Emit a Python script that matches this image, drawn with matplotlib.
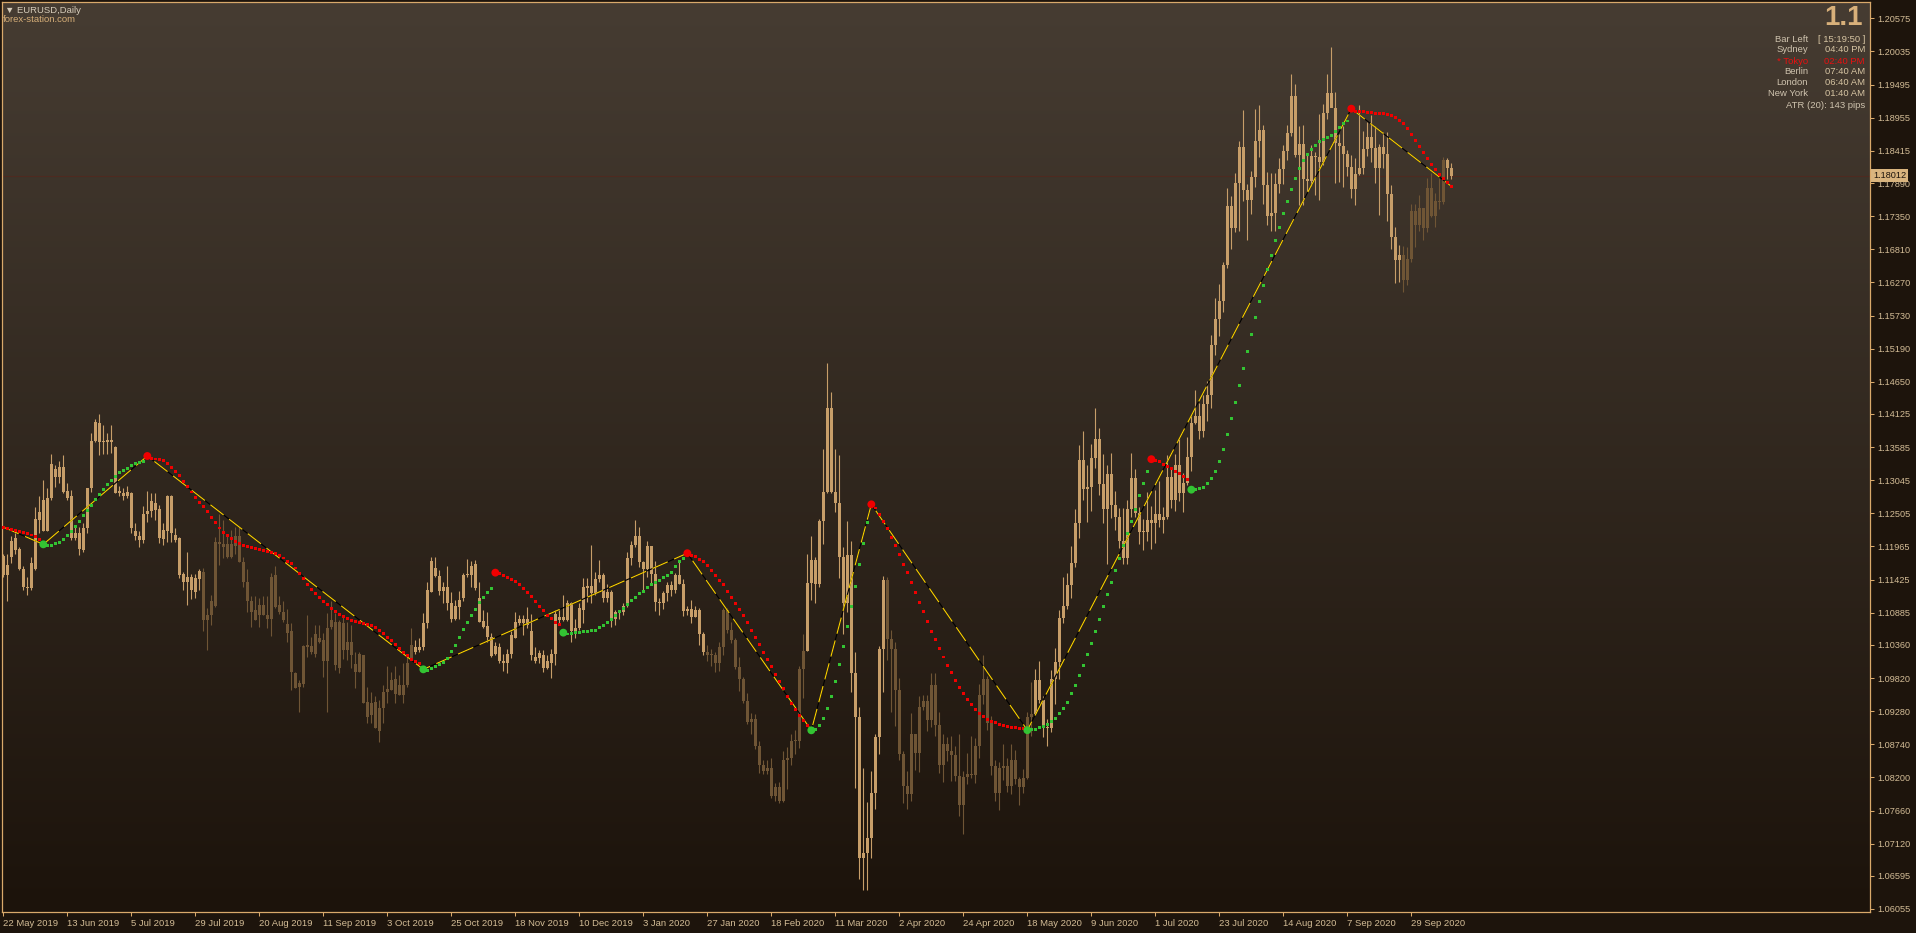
import matplotlib
matplotlib.use("Agg")
import matplotlib.pyplot as plt
import matplotlib.transforms as mtransforms
import numpy as np

# ---------------------------------------------------------------- data
symbol_title = "\u25BC EURUSD,Daily"
site_label = "forex-station.com"

date_labels = ["22 May 2019", "13 Jun 2019", "5 Jul 2019", "29 Jul 2019", "20 Aug 2019",
               "11 Sep 2019", "3 Oct 2019", "25 Oct 2019", "18 Nov 2019", "10 Dec 2019",
               "3 Jan 2020", "27 Jan 2020", "18 Feb 2020", "11 Mar 2020", "2 Apr 2020",
               "24 Apr 2020", "18 May 2020", "9 Jun 2020", "1 Jul 2020", "23 Jul 2020",
               "14 Aug 2020", "7 Sep 2020", "29 Sep 2020"]
date_label_bars = list(range(0, 353, 16))

price_ticks = [1.20575, 1.20035, 1.19495, 1.18955, 1.18415, 1.17890, 1.17350, 1.16810,
               1.16270, 1.15730, 1.15190, 1.14650, 1.14125, 1.13585, 1.13045, 1.12505,
               1.11965, 1.11425, 1.10885, 1.10360, 1.09820, 1.09280, 1.08740, 1.08200,
               1.07660, 1.07120, 1.06595, 1.06055]
current_price = 1.18012

# daily bars (open, high, low, close)
ohlc_may_jul_2019 = [
    (1.1181, 1.1185, 1.1147, 1.1150), (1.1150, 1.1184, 1.1107, 1.1167), (1.1180, 1.1213, 1.1169, 1.1206),
    (1.1210, 1.1218, 1.1185, 1.1191), (1.1192, 1.1196, 1.1158, 1.1160), (1.1159, 1.1164, 1.1125, 1.1131),
    (1.1131, 1.1147, 1.1117, 1.1129), (1.1128, 1.1180, 1.1126, 1.1169), (1.1160, 1.1261, 1.1158, 1.1241),
    (1.1240, 1.1278, 1.1218, 1.1253), (1.1272, 1.1305, 1.1221, 1.1221), (1.1221, 1.1291, 1.1221, 1.1275),
    (1.1275, 1.1348, 1.1272, 1.1331), (1.1323, 1.1329, 1.1294, 1.1310), (1.1309, 1.1336, 1.1300, 1.1326),
    (1.1326, 1.1346, 1.1283, 1.1286), (1.1287, 1.1300, 1.1272, 1.1276), (1.1278, 1.1289, 1.1207, 1.1210),
    (1.1210, 1.1229, 1.1207, 1.1218), (1.1218, 1.1229, 1.1183, 1.1192), (1.1191, 1.1234, 1.1188, 1.1227),
    (1.1226, 1.1291, 1.1218, 1.1291), (1.1291, 1.1381, 1.1286, 1.1369), (1.1369, 1.1405, 1.1367, 1.1400),
    (1.1398, 1.1413, 1.1346, 1.1366), (1.1366, 1.1395, 1.1348, 1.1369), (1.1370, 1.1381, 1.1348, 1.1366),
    (1.1366, 1.1395, 1.1349, 1.1370), (1.1359, 1.1361, 1.1283, 1.1284), (1.1284, 1.1295, 1.1278, 1.1287),
    (1.1284, 1.1291, 1.1272, 1.1278), (1.1278, 1.1295, 1.1275, 1.1285), (1.1284, 1.1286, 1.1218, 1.1226),
    (1.1222, 1.1234, 1.1207, 1.1214), (1.1214, 1.1221, 1.1196, 1.1207), (1.1207, 1.1263, 1.1202, 1.1250),
]
ohlc_jul_sep_2019 = [
    (1.1250, 1.1287, 1.1237, 1.1255), (1.1255, 1.1283, 1.1245, 1.1271), (1.1268, 1.1284, 1.1240, 1.1256),
    (1.1257, 1.1264, 1.1202, 1.1210), (1.1209, 1.1234, 1.1199, 1.1224), (1.1221, 1.1280, 1.1204, 1.1278),
    (1.1278, 1.1280, 1.1203, 1.1218), (1.1215, 1.1226, 1.1204, 1.1207), (1.1210, 1.1212, 1.1145, 1.1150),
    (1.1151, 1.1155, 1.1126, 1.1139), (1.1139, 1.1187, 1.1101, 1.1147), (1.1147, 1.1151, 1.1111, 1.1126),
    (1.1123, 1.1152, 1.1113, 1.1145), (1.1143, 1.1159, 1.1126, 1.1156), (1.1155, 1.1162, 1.1059, 1.1076),
    (1.1076, 1.1096, 1.1027, 1.1085), (1.1084, 1.1117, 1.1068, 1.1107), (1.1100, 1.1212, 1.1098, 1.1204),
    (1.1204, 1.1249, 1.1166, 1.1201), (1.1201, 1.1240, 1.1177, 1.1195), (1.1201, 1.1215, 1.1177, 1.1179),
    (1.1179, 1.1223, 1.1177, 1.1201), (1.1197, 1.1229, 1.1185, 1.1214), (1.1214, 1.1229, 1.1171, 1.1171),
    (1.1171, 1.1180, 1.1130, 1.1138), (1.1138, 1.1159, 1.1090, 1.1108), (1.1108, 1.1115, 1.1066, 1.1089),
    (1.1093, 1.1115, 1.1077, 1.1077), (1.1084, 1.1112, 1.1066, 1.1101), (1.1101, 1.1115, 1.1085, 1.1084),
    (1.1085, 1.1115, 1.1063, 1.1078), (1.1078, 1.1153, 1.1051, 1.1146), (1.1150, 1.1164, 1.1096, 1.1098),
    (1.1101, 1.1116, 1.1087, 1.1090), (1.1090, 1.1107, 1.1074, 1.1077), (1.1070, 1.1094, 1.1041, 1.1055),
]
ohlc_sep_nov_2019 = [
    (1.1058, 1.1071, 1.0962, 1.0992), (1.0990, 1.0992, 1.0965, 1.0965), (1.0967, 1.0979, 1.0926, 1.0974),
    (1.0972, 1.1036, 1.0968, 1.1034), (1.1036, 1.1085, 1.1017, 1.1033), (1.1034, 1.1049, 1.1022, 1.1025),
    (1.1022, 1.1068, 1.1017, 1.1053), (1.1048, 1.1068, 1.1039, 1.1041), (1.1044, 1.1055, 1.0984, 1.1010),
    (1.1009, 1.1088, 1.0927, 1.1064), (1.1065, 1.1108, 1.1062, 1.1077), (1.1074, 1.1088, 1.0995, 1.1003),
    (1.0998, 1.1077, 1.0990, 1.1074), (1.1071, 1.1081, 1.1013, 1.1028), (1.1028, 1.1074, 1.1011, 1.1041),
    (1.1041, 1.1068, 1.0998, 1.1020), (1.1005, 1.1025, 1.0965, 1.0992), (1.0992, 1.1025, 1.0992, 1.1021),
    (1.1020, 1.1020, 1.0941, 1.0942), (1.0943, 1.0968, 1.0908, 1.0919), (1.0921, 1.0960, 1.0908, 1.0942),
    (1.0943, 1.0952, 1.0900, 1.0900), (1.0896, 1.0946, 1.0878, 1.0933), (1.0933, 1.0971, 1.0908, 1.0959),
    (1.0959, 1.1001, 1.0941, 1.0964), (1.0963, 1.0992, 1.0963, 1.0978), (1.0980, 1.1001, 1.0941, 1.0956),
    (1.0954, 1.0987, 1.0954, 1.0971), (1.0971, 1.1006, 1.0941, 1.0954), (1.0970, 1.1020, 1.0968, 1.1006),
    (1.1011, 1.1063, 1.1011, 1.1036), (1.1033, 1.1044, 1.1022, 1.1025), (1.1027, 1.1047, 1.1025, 1.1033),
    (1.1033, 1.1088, 1.1028, 1.1072), (1.1071, 1.1139, 1.1063, 1.1126), (1.1123, 1.1180, 1.1123, 1.1172),
    (1.1161, 1.1180, 1.1147, 1.1149),
]
ohlc_nov_dec_2019 = [
    (1.1149, 1.1158, 1.1117, 1.1124), (1.1124, 1.1139, 1.1104, 1.1130), (1.1130, 1.1164, 1.1093, 1.1104),
    (1.1104, 1.1123, 1.1074, 1.1079), (1.1079, 1.1109, 1.1077, 1.1099), (1.1098, 1.1124, 1.1079, 1.1110),
    (1.1112, 1.1153, 1.1107, 1.1150), (1.1150, 1.1176, 1.1147, 1.1152), (1.1150, 1.1172, 1.1131, 1.1165),
    (1.1168, 1.1174, 1.1126, 1.1128), (1.1112, 1.1139, 1.1074, 1.1074), (1.1075, 1.1093, 1.1063, 1.1066),
    (1.1067, 1.1090, 1.1041, 1.1049), (1.1049, 1.1055, 1.1017, 1.1018), (1.1022, 1.1041, 1.1020, 1.1034),
    (1.1033, 1.1039, 1.1006, 1.1009), (1.1010, 1.1022, 1.0994, 1.1006), (1.1006, 1.1030, 1.0990, 1.1021),
    (1.1021, 1.1058, 1.1014, 1.1052), (1.1047, 1.1090, 1.1047, 1.1073), (1.1071, 1.1085, 1.1068, 1.1078),
    (1.1078, 1.1085, 1.1052, 1.1071), (1.1068, 1.1098, 1.1063, 1.1079), (1.1059, 1.1087, 1.1011, 1.1020),
    (1.1017, 1.1033, 1.1006, 1.1010), (1.1014, 1.1028, 1.1006, 1.1023), (1.1020, 1.1028, 1.0992, 1.0998),
    (1.0998, 1.1020, 1.0996, 1.1009), (1.1006, 1.1030, 1.0982, 1.1021), (1.1022, 1.1093, 1.1003, 1.1087),
    (1.1082, 1.1093, 1.1071, 1.1077), (1.1077, 1.1117, 1.1075, 1.1082), (1.1077, 1.1109, 1.1075, 1.1104),
    (1.1104, 1.1106, 1.1041, 1.1058), (1.1058, 1.1079, 1.1047, 1.1063), (1.1063, 1.1104, 1.1060, 1.1096),
    (1.1093, 1.1145, 1.1071, 1.1131),
]
ohlc_dec_feb_2020 = [
    (1.1129, 1.1145, 1.1106, 1.1132), (1.1132, 1.1199, 1.1105, 1.1121), (1.1121, 1.1155, 1.1117, 1.1143),
    (1.1143, 1.1175, 1.1139, 1.1150), (1.1150, 1.1153, 1.1106, 1.1113), (1.1113, 1.1135, 1.1106, 1.1122),
    (1.1122, 1.1125, 1.1066, 1.1078), (1.1078, 1.1093, 1.1069, 1.1089), (1.1089, 1.1093, 1.1079, 1.1090),
    (1.1090, 1.1104, 1.1085, 1.1100), (1.1100, 1.1188, 1.1098, 1.1178), (1.1178, 1.1205, 1.1167, 1.1199),
    (1.1199, 1.1239, 1.1195, 1.1213), (1.1213, 1.1228, 1.1163, 1.1171), (1.1171, 1.1173, 1.1125, 1.1159),
    (1.1159, 1.1206, 1.1146, 1.1197), (1.1197, 1.1198, 1.1134, 1.1152), (1.1152, 1.1173, 1.1092, 1.1106),
    (1.1106, 1.1113, 1.1085, 1.1105), (1.1105, 1.1124, 1.1094, 1.1121), (1.1121, 1.1139, 1.1107, 1.1134),
    (1.1134, 1.1140, 1.1116, 1.1126), (1.1126, 1.1154, 1.1120, 1.1150), (1.1150, 1.1174, 1.1136, 1.1136),
    (1.1136, 1.1143, 1.1083, 1.1091), (1.1091, 1.1100, 1.1085, 1.1095), (1.1095, 1.1109, 1.1072, 1.1082),
    (1.1082, 1.1099, 1.1081, 1.1093), (1.1093, 1.1097, 1.1036, 1.1053), (1.1053, 1.1057, 1.1019, 1.1024),
    (1.1024, 1.1036, 1.1009, 1.1020), (1.1020, 1.1029, 1.1001, 1.1020), (1.1020, 1.1025, 1.0992, 1.1007),
    (1.1007, 1.1040, 1.0993, 1.1033), (1.1033, 1.1096, 1.1019, 1.1093), (1.1093, 1.1096, 1.1055, 1.1060),
    (1.1060, 1.1073, 1.1039, 1.1044), (1.1044, 1.1048, 1.0997, 1.1000), (1.1000, 1.1016, 1.0961, 1.0980),
    (1.0980, 1.0983, 1.0942, 1.0945), (1.0945, 1.0957, 1.0907, 1.0910), (1.0910, 1.0925, 1.0891, 1.0916),
    (1.0916, 1.0924, 1.0867, 1.0872), (1.0872, 1.0879, 1.0828, 1.0841), (1.0841, 1.0848, 1.0826, 1.0830),
    (1.0830, 1.0849, 1.0826, 1.0836), (1.0836, 1.0851, 1.0786, 1.0790), (1.0790, 1.0811, 1.0781, 1.0804),
    (1.0804, 1.0812, 1.0778, 1.0781), (1.0781, 1.0863, 1.0780, 1.0848), (1.0848, 1.0870, 1.0801, 1.0852),
    (1.0852, 1.0890, 1.0840, 1.0880), (1.0880, 1.0897, 1.0858, 1.0880), (1.0880, 1.1001, 1.0868, 1.0996),
    (1.0996, 1.1053, 1.0950, 1.1026),
]
ohlc_mar_may_2020 = [
    (1.1026, 1.1185, 1.1026, 1.1137), (1.1137, 1.1213, 1.1109, 1.1174), (1.1174, 1.1180, 1.1104, 1.1136),
    (1.1136, 1.1241, 1.1130, 1.1238), (1.1238, 1.1355, 1.1201, 1.1285), (1.1285, 1.1496, 1.1283, 1.1423),
    (1.1423, 1.1449, 1.1283, 1.1286), (1.1286, 1.1355, 1.1253, 1.1267), (1.1267, 1.1345, 1.1145, 1.1180),
    (1.1180, 1.1196, 1.1054, 1.1105), (1.1105, 1.1238, 1.1090, 1.1183), (1.1183, 1.1206, 1.0960, 1.0990),
    (1.0990, 1.1025, 1.0802, 1.0918), (1.0918, 1.0935, 1.0654, 1.0688), (1.0688, 1.0835, 1.0637, 1.0696),
    (1.0696, 1.0780, 1.0636, 1.0722), (1.0722, 1.0830, 1.0688, 1.0794), (1.0794, 1.0890, 1.0768, 1.0886),
    (1.0886, 1.1034, 1.0858, 1.1030), (1.1030, 1.1148, 1.0959, 1.1142), (1.1142, 1.1147, 1.1011, 1.1045),
    (1.1045, 1.1061, 1.0927, 1.1029), (1.1029, 1.1040, 1.0904, 1.0962), (1.0962, 1.0982, 1.0848, 1.0858),
    (1.0858, 1.0863, 1.0778, 1.0806), (1.0806, 1.0830, 1.0769, 1.0793), (1.0793, 1.0925, 1.0781, 1.0890),
    (1.0890, 1.0891, 1.0832, 1.0859), (1.0859, 1.0953, 1.0829, 1.0935), (1.0935, 1.0955, 1.0930, 1.0945),
    (1.0945, 1.0955, 1.0896, 1.0913), (1.0913, 1.0991, 1.0903, 1.0970), (1.0970, 1.0990, 1.0888, 1.0905),
    (1.0905, 1.0927, 1.0828, 1.0840), (1.0840, 1.0890, 1.0812, 1.0875), (1.0875, 1.0886, 1.0846, 1.0863),
    (1.0863, 1.0887, 1.0814, 1.0856), (1.0856, 1.0871, 1.0814, 1.0823), (1.0823, 1.0891, 1.0757, 1.0775),
    (1.0775, 1.0830, 1.0727, 1.0820), (1.0820, 1.0859, 1.0810, 1.0826), (1.0826, 1.0888, 1.0819, 1.0824),
    (1.0824, 1.0885, 1.0811, 1.0871), (1.0871, 1.0973, 1.0852, 1.0955), (1.0955, 1.1019, 1.0940, 1.0981),
    (1.0981, 1.0986, 1.0897, 1.0908), (1.0908, 1.0920, 1.0824, 1.0839), (1.0839, 1.0848, 1.0782, 1.0794),
    (1.0794, 1.0845, 1.0767, 1.0836), (1.0836, 1.0875, 1.0815, 1.0838), (1.0838, 1.0851, 1.0796, 1.0806),
    (1.0806, 1.0875, 1.0793, 1.0849), (1.0849, 1.0865, 1.0809, 1.0818), (1.0818, 1.0820, 1.0775, 1.0805),
    (1.0805, 1.0833, 1.0794, 1.0819), (1.0819, 1.0926, 1.0817, 1.0918),
]
ohlc_may_jul_2020 = [
    (1.0918, 1.0975, 1.0887, 1.0923), (1.0923, 1.0996, 1.0921, 1.0978), (1.0978, 1.1009, 1.0941, 1.0946),
    (1.0946, 1.0953, 1.0886, 1.0901), (1.0901, 1.0915, 1.0871, 1.0900), (1.0900, 1.0995, 1.0894, 1.0980),
    (1.0980, 1.1031, 1.0940, 1.1008), (1.1008, 1.1093, 1.0980, 1.1080), (1.1080, 1.1146, 1.1071, 1.1100),
    (1.1100, 1.1153, 1.1094, 1.1134), (1.1134, 1.1198, 1.1113, 1.1170), (1.1170, 1.1257, 1.1163, 1.1235),
    (1.1235, 1.1362, 1.1210, 1.1338), (1.1338, 1.1384, 1.1272, 1.1290), (1.1290, 1.1330, 1.1236, 1.1293),
    (1.1293, 1.1363, 1.1255, 1.1341), (1.1341, 1.1422, 1.1325, 1.1372), (1.1372, 1.1389, 1.1280, 1.1298),
    (1.1298, 1.1347, 1.1234, 1.1258), (1.1258, 1.1330, 1.1168, 1.1315), (1.1315, 1.1349, 1.1243, 1.1264),
    (1.1264, 1.1287, 1.1223, 1.1244), (1.1244, 1.1260, 1.1194, 1.1206), (1.1206, 1.1259, 1.1168, 1.1177),
    (1.1177, 1.1272, 1.1168, 1.1258), (1.1258, 1.1349, 1.1245, 1.1308), (1.1308, 1.1323, 1.1245, 1.1251),
    (1.1251, 1.1261, 1.1200, 1.1220), (1.1220, 1.1242, 1.1190, 1.1220), (1.1220, 1.1285, 1.1205, 1.1239),
    (1.1239, 1.1262, 1.1192, 1.1234), (1.1234, 1.1289, 1.1202, 1.1250), (1.1250, 1.1303, 1.1228, 1.1240),
    (1.1240, 1.1261, 1.1219, 1.1245), (1.1245, 1.1345, 1.1242, 1.1310), (1.1310, 1.1324, 1.1259, 1.1273),
    (1.1273, 1.1347, 1.1254, 1.1329), (1.1329, 1.1371, 1.1271, 1.1284), (1.1284, 1.1316, 1.1253, 1.1300),
    (1.1300, 1.1375, 1.1297, 1.1343), (1.1343, 1.1411, 1.1320, 1.1398), (1.1398, 1.1452, 1.1396, 1.1410),
    (1.1410, 1.1430, 1.1371, 1.1384), (1.1384, 1.1443, 1.1375, 1.1428), (1.1428, 1.1467, 1.1401, 1.1443),
    (1.1443, 1.1541, 1.1422, 1.1525), (1.1525, 1.1601, 1.1509, 1.1567), (1.1567, 1.1625, 1.1540, 1.1596),
    (1.1596, 1.1660, 1.1579, 1.1656), (1.1656, 1.1781, 1.1650, 1.1751), (1.1751, 1.1768, 1.1681, 1.1716),
    (1.1716, 1.1805, 1.1709, 1.1789), (1.1789, 1.1857, 1.1710, 1.1847), (1.1847, 1.1908, 1.1760, 1.1778),
]
ohlc_aug_oct_2020 = [
    (1.1778, 1.1787, 1.1696, 1.1762), (1.1762, 1.1808, 1.1738, 1.1798), (1.1798, 1.1909, 1.1783, 1.1858),
    (1.1858, 1.1916, 1.1831, 1.1876), (1.1876, 1.1884, 1.1754, 1.1786), (1.1786, 1.1807, 1.1720, 1.1736),
    (1.1736, 1.1805, 1.1711, 1.1740), (1.1740, 1.1806, 1.1711, 1.1788), (1.1788, 1.1830, 1.1773, 1.1812),
    (1.1812, 1.1851, 1.1788, 1.1842), (1.1842, 1.1883, 1.1827, 1.1870), (1.1870, 1.1966, 1.1866, 1.1931),
    (1.1931, 1.1951, 1.1832, 1.1835), (1.1835, 1.1882, 1.1753, 1.1853), (1.1853, 1.1884, 1.1753, 1.1796),
    (1.1796, 1.1838, 1.1775, 1.1792), (1.1792, 1.1851, 1.1784, 1.1833), (1.1833, 1.1840, 1.1770, 1.1831),
    (1.1831, 1.1902, 1.1762, 1.1823), (1.1823, 1.1918, 1.1819, 1.1903), (1.1903, 1.1966, 1.1893, 1.1936),
    (1.1936, 1.2011, 1.1914, 1.1912), (1.1912, 1.1937, 1.1789, 1.1854), (1.1854, 1.1869, 1.1790, 1.1850),
    (1.1850, 1.1882, 1.1782, 1.1837), (1.1837, 1.1843, 1.1801, 1.1815), (1.1815, 1.1834, 1.1765, 1.1780),
    (1.1780, 1.1830, 1.1753, 1.1804), (1.1804, 1.1917, 1.1802, 1.1813), (1.1813, 1.1873, 1.1804, 1.1845),
    (1.1845, 1.1888, 1.1833, 1.1864), (1.1864, 1.1900, 1.1823, 1.1846), (1.1846, 1.1882, 1.1789, 1.1814),
    (1.1814, 1.1852, 1.1737, 1.1848), (1.1848, 1.1872, 1.1813, 1.1837), (1.1837, 1.1872, 1.1727, 1.1771),
    (1.1771, 1.1786, 1.1681, 1.1701), (1.1701, 1.1718, 1.1626, 1.1663), (1.1663, 1.1688, 1.1627, 1.1672),
    (1.1672, 1.1687, 1.1612, 1.1631), (1.1631, 1.1684, 1.1622, 1.1665), (1.1665, 1.1755, 1.1660, 1.1744),
    (1.1744, 1.1754, 1.1685, 1.1720), (1.1720, 1.1770, 1.1710, 1.1748), (1.1748, 1.1749, 1.1696, 1.1715),
    (1.1715, 1.1797, 1.1709, 1.1781), (1.1781, 1.1806, 1.1733, 1.1735), (1.1735, 1.1773, 1.1718, 1.1760),
    (1.1760, 1.1797, 1.1746, 1.1758), (1.1758, 1.1831, 1.1755, 1.1826), (1.1826, 1.1830, 1.1796, 1.1813),
    (1.1813, 1.1821, 1.1795, 1.1801),
]

# bar ranges whose candles are drawn in the darker shade
dark_candle_spans = [(50, 102), (176, 200), (221, 257), (350, 360)]

# trailing swing line (one value per bar)
trail_2019a = [1.12272, 1.12255, 1.12239, 1.12223, 1.12207, 1.12196, 1.12180, 1.12152, 1.12120, 1.12082,
               1.12000, 1.11978, 1.11984, 1.12006, 1.12033, 1.12082, 1.12147, 1.12212, 1.12294, 1.12375,
               1.12467, 1.12554, 1.12636, 1.12723, 1.12815, 1.12897, 1.12973, 1.13043, 1.13109, 1.13163,
               1.13207, 1.13244, 1.13277, 1.13310, 1.13326, 1.13348]
trail_2019b = [1.13440, 1.13407, 1.13391, 1.13380, 1.13364, 1.13321, 1.13255, 1.13185, 1.13114, 1.13022,
               1.12940, 1.12853, 1.12766, 1.12679, 1.12614, 1.12533, 1.12440, 1.12348, 1.12266, 1.12196,
               1.12141, 1.12087, 1.12038, 1.12006, 1.11984, 1.11962, 1.11946, 1.11929, 1.11913, 1.11897,
               1.11881, 1.11870, 1.11843, 1.11821, 1.11777, 1.11723, 1.11680, 1.11614, 1.11527, 1.11440,
               1.11348, 1.11267, 1.11201, 1.11136, 1.11065, 1.11017, 1.10951, 1.10902, 1.10859, 1.10821,
               1.10794, 1.10761, 1.10745, 1.10729, 1.10712, 1.10691, 1.10669, 1.10636, 1.10593, 1.10544,
               1.10484, 1.10430, 1.10370, 1.10305, 1.10240, 1.10191, 1.10125, 1.10093, 1.10060]
trail_2019c = [1.09962, 1.09941, 1.09973, 1.10006, 1.10033, 1.10066, 1.10142, 1.10250, 1.10354, 1.10484,
               1.10614, 1.10729, 1.10843, 1.10940, 1.11055, 1.11136, 1.11218, 1.11283, 1.11538, 1.11517,
               1.11495, 1.11462, 1.11430, 1.11397, 1.11348, 1.11283, 1.11218, 1.11152, 1.11071, 1.10989,
               1.10924, 1.10843, 1.10794, 1.10729, 1.10696, 1.10560, 1.10538, 1.10549, 1.10566, 1.10566,
               1.10577]
trail_2020a = [1.10580, 1.10590, 1.10601, 1.10641, 1.10681, 1.10720, 1.10780, 1.10840, 1.10900, 1.10959,
               1.11019, 1.11079, 1.11138, 1.11198, 1.11238, 1.11298, 1.11338, 1.11377, 1.11417, 1.11457,
               1.11497, 1.11537, 1.11636, 1.11716, 1.11776,
               1.11855,
               1.11815, 1.11795, 1.11756, 1.11716, 1.11656, 1.11576, 1.11497, 1.11417, 1.11338, 1.11238,
               1.11138, 1.11039, 1.10939, 1.10840, 1.10720, 1.10601, 1.10481, 1.10362, 1.10243, 1.10123,
               1.10004, 1.09884, 1.09765, 1.09645, 1.09526, 1.09406, 1.09307, 1.09207, 1.09128, 1.09048,
               1.08968,
               1.08988, 1.09048, 1.09167, 1.09327, 1.09526, 1.09765, 1.10044, 1.10342, 1.10661, 1.10979,
               1.11318, 1.11676, 1.12014, 1.12353]
trail_2020b = [1.12652,
               1.12592, 1.12493, 1.12373, 1.12254, 1.12114, 1.11975, 1.11836, 1.11676, 1.11537, 1.11377,
               1.11218, 1.11059, 1.10900, 1.10740, 1.10581, 1.10442, 1.10302, 1.10163, 1.10024, 1.09904,
               1.09785, 1.09665, 1.09566, 1.09466, 1.09386, 1.09307, 1.09247, 1.09187, 1.09148, 1.09108,
               1.09088, 1.09068, 1.09048, 1.09028, 1.09020, 1.09008, 1.09000, 1.08990,
               1.08970,
               1.08988, 1.08988, 1.09008, 1.09028, 1.09068, 1.09108, 1.09167, 1.09247, 1.09327, 1.09427,
               1.09566, 1.09705, 1.09865, 1.10024, 1.10203, 1.10382, 1.10581, 1.10780, 1.10979, 1.11178,
               1.11377, 1.11576, 1.11776, 1.11975, 1.12174, 1.12373, 1.12572, 1.12791, 1.12990, 1.13189,
               1.13388,
               1.13368, 1.13348, 1.13309, 1.13269, 1.13229, 1.13189, 1.13149, 1.13110, 1.13050]
trail_2020c = [1.12891,
               1.12891, 1.12910, 1.12930, 1.12990, 1.13070, 1.13189, 1.13349, 1.13548, 1.13786, 1.14045,
               1.14304, 1.14583, 1.14861, 1.15140, 1.15419, 1.15698, 1.15957, 1.16215, 1.16474, 1.16713,
               1.16952, 1.17171, 1.17390, 1.17589, 1.17788, 1.17967, 1.18127,
               1.18265, 1.18358, 1.18440, 1.18505, 1.18559, 1.18603, 1.18635, 1.18668, 1.18733, 1.18798,
               1.18864, 1.18901,
               1.19102,
               1.19059, 1.19059, 1.19059, 1.19043, 1.19036, 1.19027, 1.19027, 1.19027, 1.19010, 1.18994,
               1.18961, 1.18912, 1.18864, 1.18782, 1.18684, 1.18586, 1.18489, 1.18391, 1.18293, 1.18195,
               1.18118, 1.18032, 1.17967, 1.17902, 1.17836]

# swing points of the trailing line: (bar, kind)
swing_pivots = [(10, "low"), (36, "high"), (105, "low"), (123, "high"), (140, "low"),
                (171, "high"), (202, "low"), (217, "high"), (256, "low"), (287, "high"),
                (297, "low"), (337, "high")]
first_trail_kind = "high"

# zigzag vertices
zigzag_bars = [0, 10, 36, 105, 171, 202, 217, 256, 337, 362]
zigzag_prices = [1.1228, 1.1200, 1.1344, 1.09962, 1.11855, 1.08968, 1.12652, 1.08970, 1.19102, 1.17836]

# info panel
panel_big = "1.1"
panel_rows = [("Bar Left", "[ 15:19:50 ]"), ("Sydney", "04:40 PM"), ("* Tokyo", "02:40 PM"),
              ("Berlin", "07:40 AM"), ("London", "06:40 AM"), ("New York", "01:40 AM")]
panel_highlight = "* Tokyo"
panel_atr = "ATR (20): 143 pips"

# ---------------------------------------------------------------- style
W, H, DPI = 1916, 933, 100
plt.rcParams['font.family'] = ['Liberation Sans', 'DejaVu Sans']
plt.rcParams['lines.scale_dashes'] = False

FIG_BG = '#1D140C'
FRAME = '#D9A96B'
TXT = '#D3BC96'
LIGHT_CANDLE = '#C79E69'
DARK_CANDLE = '#6F5535'
RED = '#F00000'
GREEN = '#33C433'

bars = (ohlc_may_jul_2019 + ohlc_jul_sep_2019 + ohlc_sep_nov_2019 + ohlc_nov_dec_2019 +
        ohlc_dec_feb_2020 + ohlc_mar_may_2020 + ohlc_may_jul_2020 + ohlc_aug_oct_2020)
arr = np.array(bars, dtype=float)
o, h, l, c = arr[:, 0], arr[:, 1], arr[:, 2], arr[:, 3]
n = len(arr)
xi = np.arange(n)

trail = np.array(trail_2019a + trail_2019b + trail_2019c + trail_2020a + trail_2020b + trail_2020c)
m = min(len(trail), n)
trail = trail[:m]

fig = plt.figure(figsize=(W / DPI, H / DPI), dpi=DPI, facecolor=FIG_BG)
PL, PR, PT, PB = 2, 1870, 2, 912
ax = fig.add_axes([PL / W, 1 - PB / H, (PR - PL) / W, (PB - PT) / H])

px_per_bar = 4.0
x0 = (PL - 3.33) / px_per_bar
x1 = (PR - 3.33) / px_per_bar
y_top, y_bot = 1.20841, 1.06006

# gradient background
top_rgb = np.array([0x46, 0x3C, 0x32]) / 255.0
bot_rgb = np.array([0x1C, 0x13, 0x0B]) / 255.0
t = np.linspace(0, 1, 300)[:, None]
grad = (top_rgb * (1 - t) + bot_rgb * t)[:, None, :]
ax.imshow(grad, extent=[x0, x1, y_bot, y_top], aspect='auto', origin='upper',
          zorder=0, interpolation='bilinear')

ax.set_xlim(x0, x1)
ax.set_ylim(y_bot, y_top)

# current price line
ax.axhline(current_price, color='#4E2A20', lw=0.8, zorder=1)

# candles
cols = [LIGHT_CANDLE] * n
for a, b in dark_candle_spans:
    for i in range(a, min(b, n - 1) + 1):
        cols[i] = DARK_CANDLE
ax.vlines(xi, l, h, colors=cols, linewidth=0.8, zorder=2)
body_lo = np.minimum(o, c)
body_h = np.maximum(np.abs(c - o), 0.00014)
ax.bar(xi, body_h, bottom=body_lo, width=0.74, color=cols, linewidth=0, zorder=3)

# zigzag: black under-line with yellow dashes
ax.plot(zigzag_bars, zigzag_prices, color='#000000', lw=0.8, zorder=4)
ax.plot(zigzag_bars, zigzag_prices, color='#FFD400', lw=0.8, dashes=(12, 5), zorder=4.1)

# trailing dots coloured by the last swing
pivot_map = {b: k for b, k in swing_pivots}
kind = first_trail_kind
dot_cols = []
for i in range(m):
    if i in pivot_map:
        kind = pivot_map[i]
    dot_cols.append(RED if kind == "high" else GREEN)
small_idx = [i for i in range(m) if i not in pivot_map]
ax.scatter(small_idx, trail[small_idx], marker='s', s=4.6,
           c=[dot_cols[i] for i in small_idx], linewidths=0, zorder=5)
piv_idx = [b for b, k in swing_pivots if b < m]
ax.scatter(piv_idx, trail[piv_idx], marker='o', s=32,
           c=[RED if pivot_map[b] == "high" else GREEN for b in piv_idx], linewidths=0, zorder=6)

# axes frame and ticks
for sp in ax.spines.values():
    sp.set_color(FRAME)
    sp.set_linewidth(0.9)
ax.yaxis.tick_right()
ax.set_yticks(price_ticks)
ax.set_yticklabels([f"{p:.5f}" for p in price_ticks])
ax.tick_params(axis='y', which='both', direction='out', length=3, width=0.75,
               color=FRAME, labelcolor=TXT, labelsize=6.6, pad=2, left=False, right=True)
ax.set_xticks(date_label_bars)
ax.set_xticklabels(date_labels)
for lab in ax.get_xticklabels():
    lab.set_horizontalalignment('left')
ax.tick_params(axis='x', which='both', direction='out', length=3, width=0.75,
               color=FRAME, labelcolor=TXT, labelsize=6.8, pad=2)

# current price tag
trans = mtransforms.blended_transform_factory(ax.transAxes, ax.transData)
ax.text(1.0 + 3.0 / (PR - PL), current_price, f"{current_price:.5f}", transform=trans,
        ha='left', va='center', fontsize=6.6, color='#1D140C', zorder=10, clip_on=False,
        bbox=dict(boxstyle='square,pad=0.18', fc='#D9B47E', ec='none'))


def fx(px):
    return px / W


def fy(py):
    return 1 - py / H


fig.text(fx(5), fy(10.5), symbol_title, ha='left', va='center', fontsize=6.8, color='#D6CCBA')
fig.text(fx(3), fy(19.5), site_label, ha='left', va='center', fontsize=6.8, color='#D6AE78')

fig.text(fx(1863), fy(18), panel_big, ha='right', va='center', fontsize=20, fontweight='bold',
         color='#D8B07A')
row_y = [39, 50, 61, 71.7, 82.7, 93.7]
for (lab, val), yy in zip(panel_rows, row_y):
    colr = '#E81010' if lab == panel_highlight else '#CFC3AE'
    fig.text(fx(1808), fy(yy), lab, ha='right', va='center', fontsize=6.8, color=colr)
    fig.text(fx(1865), fy(yy), val, ha='right', va='center', fontsize=6.8,
             color='#E81010' if lab == panel_highlight else '#D6C4A2')
fig.text(fx(1865), fy(105.3), panel_atr, ha='right', va='center', fontsize=6.8, color='#CFC3AE')

fig.savefig("out.png", dpi=DPI, facecolor=FIG_BG)
